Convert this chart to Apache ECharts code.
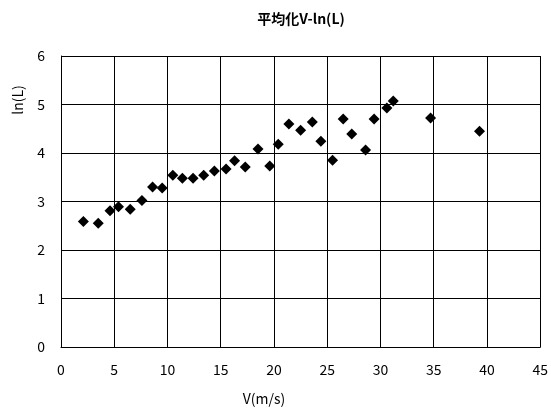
<!DOCTYPE html>
<html><head><meta charset="utf-8">
<script src="https://cdn.jsdelivr.net/npm/echarts@6/dist/echarts.min.js"></script>
<style>html,body{margin:0;padding:0;background:#fff}#c{width:551px;height:414px}</style>
</head><body><div id="c"></div>
<script>
const titleText = '平均化V-ln(L)';
const xName = 'V(m/s)';
const yName = 'ln(L)';
const vValues = [2.1,3.5,4.6,5.4,6.5,7.6,8.6,9.5,10.5,11.4,12.4,13.4,14.4,15.5,16.3,17.3,18.5,19.6,20.4,21.4,22.5,23.6,24.4,25.5,26.5,27.3,28.6,29.4,30.6,31.2,34.7,39.3];
const lnValues = [2.59,2.55,2.81,2.89,2.84,3.02,3.30,3.28,3.54,3.48,3.48,3.54,3.63,3.67,3.84,3.71,4.08,3.73,4.18,4.60,4.47,4.64,4.24,3.85,4.70,4.39,4.06,4.70,4.93,5.07,4.72,4.45];
const pts = vValues.map((v,i)=>[v,lnValues[i]]);
const font = '"Noto Sans CJK JP", sans-serif';
const chart = echarts.init(document.getElementById('c'));
chart.setOption({
  backgroundColor:'#fff',
  animation:false,
  title:{text:titleText,left:296,top:7,textAlign:'center',textStyle:{fontFamily:font,fontSize:14,fontWeight:'bold',color:'#000'}},
  grid:{left:61,right:10,top:56,bottom:67},
  xAxis:{type:'value',min:0,max:45,interval:5,
    axisLine:{lineStyle:{color:'#000',width:1}},axisTick:{show:false},
    axisLabel:{color:'#000',fontFamily:font,fontSize:14,margin:16},
    splitLine:{lineStyle:{color:'#000',width:1}}},
  yAxis:{type:'value',min:0,max:6,interval:1,
    axisLine:{show:true,lineStyle:{color:'#000',width:1}},axisTick:{show:false},
    axisLabel:{color:'#000',fontFamily:font,fontSize:14,margin:16},
    splitLine:{lineStyle:{color:'#000',width:1}}},
  graphic:[
    {type:'text',x:264,y:399,style:{text:xName,textAlign:'center',textVerticalAlign:'middle',font:'14px '+font,fill:'#000'}},
    {type:'text',rotation:Math.PI/2,x:18,y:100,style:{text:yName,textAlign:'center',textVerticalAlign:'middle',font:'14px '+font,fill:'#000'}}
  ],
  series:[{type:'scatter',data:pts,symbol:'diamond',symbolSize:11,itemStyle:{color:'#000',opacity:1}}]
});
</script></body></html>
